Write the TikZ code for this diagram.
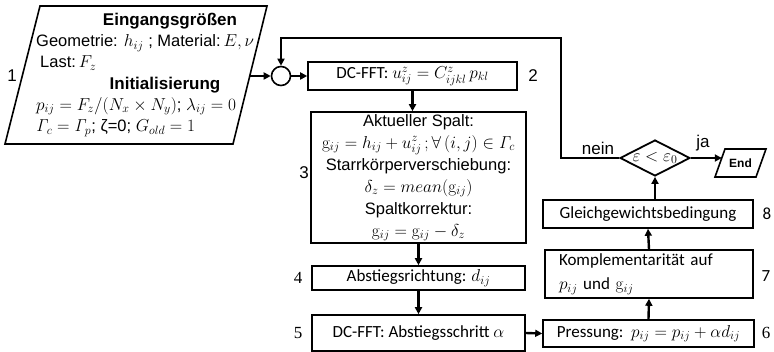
\documentclass[tikz,border=0pt]{standalone}
\usepackage{amsmath,amssymb}
\usepackage[no-math]{fontspec}
\newfontfamily\arialfont{Liberation Sans}
\newfontfamily\calibrifont{Carlito}
\newfontfamily\cambriafont{Liberation Serif}
\usetikzlibrary{arrows.meta,shapes.geometric}

\newcommand{\fArial}{\fontsize{16.5}{22}\selectfont\arialfont}
\newcommand{\fArialBold}{\fontsize{17}{20}\selectfont\arialfont\bfseries}
\newcommand{\fCalibri}{\fontsize{17}{24}\selectfont\calibrifont}

\begin{document}
\begin{tikzpicture}[x=1pt, y=-1pt, >={Triangle[length=7pt,width=7pt]},
  every node/.style={inner sep=0pt},
  box/.style={draw, line width=1.6pt, inner sep=2pt},
  flow/.style={->, line width=2.4pt},
  tag/.style={font=\fontsize{17}{20}\selectfont\arialfont}]

  \useasboundingbox (0,0) rectangle (774,352);

  % =========================
  % input / initialisation
  % =========================
  \draw[line width=1.6pt] (40,6) -- (267,6) -- (233,144) -- (5,144) -- cycle;
  \coordinate (input) at (249.8,76);
  \node[tag] (n1) at (12,76) {1};

  \node[font=\fArialBold] (inhead) at (170,21) {Eingangsgrößen};
  \node[anchor=west, font=\fArial] (ingeo) at (36,43)
    {Geometrie: $h_{ij}$ ; Material:$\,E,\nu$};
  \node[anchor=west, font=\fArial] (inlast) at (40,63) {Last:$\,F_z$};
  \node[font=\fArialBold] (inithead) at (165,85) {Initialisierung};
  \node[anchor=west, font=\fArial] (initp) at (36,106)
    {$p_{ij}=F_z/(N_x\times N_y)$; $\lambda_{ij}=0$};
  \node[anchor=west, font=\fArial] (initg) at (36,128)
    {$\mathit{\Gamma}_c=\mathit{\Gamma}_p$; ζ=0; $G_{old}=1$};

  % summing point
  \node[draw, circle, line width=1.6pt, minimum size=19] (sum) at (281,76) {};

  % =========================
  % left column
  % =========================
  \node[box, minimum width=209, minimum height=28, font=\fCalibri] (dcfft) at (412.5,76)
    {DC-FFT: $u_{ij}^{z}=C_{ijkl}^{z}\,p_{kl}$};
  \node[tag] (n2) at (533,76) {2};

  \node[box, minimum width=215, minimum height=131, align=center, font=\fArial] (gap)
    at (418.5,177.5)
    {Aktueller Spalt:\\
     $\mathrm{g}_{ij}=h_{ij}+u_{ij}^{z}\,;\forall\,(i,j)\in\mathit{\Gamma}_c$\\
     Starrkörperverschiebung:\\
     $\delta_z=mean(\mathrm{g}_{ij})$\\
     Spaltkorrektur:\\
     $\mathrm{g}_{ij}=\mathrm{g}_{ij}-\delta_z$};
  \node[tag] (n3) at (304,173) {3};

  \node[box, minimum width=213, minimum height=24, font=\fCalibri] (dir) at (418.5,278)
    {Abstiegsrichtung: $d_{ij}$};
  \node[tag, font=\fontsize{17}{20}\selectfont\cambriafont] (n4) at (298,278) {4};

  \node[box, minimum width=213, minimum height=36, font=\fCalibri] (stepsize) at (418.5,333)
    {DC-FFT: Abstiegsschritt $\alpha$};
  \node[tag, font=\fontsize{17}{20}\selectfont\cambriafont] (n5) at (298,333) {5};

  % =========================
  % right column
  % =========================
  \node[box, minimum width=211, minimum height=27, font=\fCalibri] (press) at (648.5,333.5)
    {Pressung:\ \ $p_{ij}=p_{ij}+\alpha d_{ij}$};
  \node[tag, font=\fontsize{17}{20}\selectfont\cambriafont] (n6) at (766,333) {6};

  \node[box, minimum width=208, minimum height=48, text width=180, inner xsep=14pt,
        align=left, font=\fCalibri] (compl) at (649,274)
    {Komplementarität auf\\ $p_{ij}$ und $\mathrm{g}_{ij}$};
  \node[tag, font=\fontsize{17}{20}\selectfont\calibrifont] (n7) at (766,276) {7};

  \node[box, minimum width=210, minimum height=28, font=\fCalibri] (equil) at (648,214)
    {Gleichgewichtsbedingung};
  \node[tag, font=\fontsize{17}{20}\selectfont\calibrifont] (n8) at (767,214) {8};

  \node[draw, diamond, aspect=2, line width=1.8pt, minimum width=70, minimum height=36,
        font=\fontsize{17}{18}\selectfont] (test) at (655,158) {$\varepsilon<\varepsilon_0$};

  % end terminal
  \draw[line width=1.6pt] (725,149) -- (766,149) -- (756,177) -- (715,177) -- cycle;
  \node[font=\fontsize{12}{14}\selectfont\arialfont\bfseries] (end) at (740.5,163) {End};
  \coordinate (endin) at (721.8,158);

  \node[tag] (nein) at (598,148) {nein};
  \node[tag] (ja) at (703,143) {ja};

  % =========================
  % connectors
  % =========================
  \coordinate (loop) at (561,38);

  \draw[flow] (input) -- (sum);
  \draw[flow] (sum) -- (dcfft);
  \draw[flow] (dcfft.south) -- (dcfft.south |- gap.north);
  \draw[flow] (gap.south) -- (dir.north);
  \draw[flow] (dir.south) -- (stepsize.north);
  \draw[flow] (stepsize.east) -- (press.west);
  \draw[flow] (press.north) -- (compl.south);
  \draw[flow] (compl.north) -- (equil.south);
  \draw[flow] (test.south |- equil.north) -- (test.south);
  \draw[flow] (test.east) -- (endin);
  \draw[flow] (test.west) -| (loop) -| (sum.north);

\end{tikzpicture}
\end{document}
